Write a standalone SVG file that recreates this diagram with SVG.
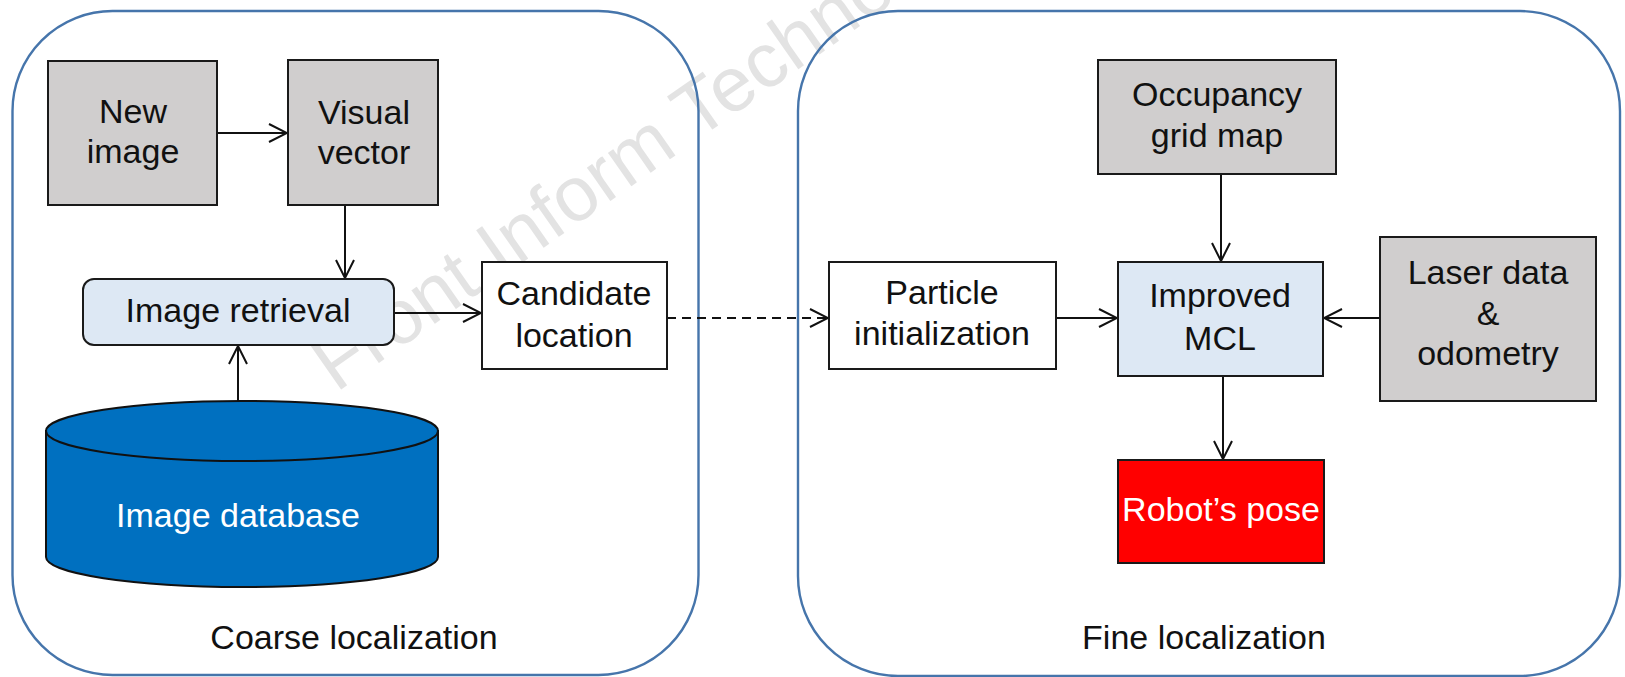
<svg xmlns="http://www.w3.org/2000/svg" width="1625" height="677" viewBox="0 0 1625 677">
<style>
  .panel { fill: none; stroke: #4675ab; stroke-width: 2.4; }
  .box { stroke: #1a1a1a; stroke-width: 2; }
  .gray { fill: #d0cece; }
  .blue { fill: #dde8f4; }
  .white { fill: #ffffff; }
  .red { fill: #ff0000; }
  .t { font-family: "Liberation Sans", Arial, sans-serif; font-size: 34px; fill: #111; text-anchor: middle; }
  .tw { fill: #ffffff; }
  .wm { font-family: "Liberation Sans", Arial, sans-serif; font-size: 77px; fill: #e3e3e3; }
  .conn { fill: none; stroke: #111; stroke-width: 2; }
</style>
<defs>
  <marker id="arr" viewBox="0 0 20 20" refX="19" refY="10" markerWidth="20" markerHeight="20" markerUnits="userSpaceOnUse" orient="auto">
    <path d="M1,1 L19,10 L1,19" fill="none" stroke="#111" stroke-width="2"/>
  </marker>
</defs>
<rect width="1625" height="677" fill="#ffffff"/>
<text class="wm" transform="translate(336,393) rotate(-35)">Front Inform Techno</text>

<g id="panel-coarse">
  <rect class="panel" x="12.5" y="11" width="686" height="664" rx="100" ry="100"/>
  <text class="t" x="354" y="649">Coarse localization</text>
</g>
<g id="panel-fine">
  <rect class="panel" x="798" y="11" width="822" height="665" rx="100" ry="100"/>
  <text class="t" x="1204" y="649">Fine localization</text>
</g>

<g id="connectors">
  <path class="conn" d="M217,133 H287" marker-end="url(#arr)"/>
  <path class="conn" d="M345,205 V278" marker-end="url(#arr)"/>
  <path class="conn" d="M238,401 V346" marker-end="url(#arr)"/>
  <path class="conn" d="M394,313 H481" marker-end="url(#arr)"/>
  <path class="conn" d="M667,318 H828" stroke-dasharray="9,6" marker-end="url(#arr)"/>
  <path class="conn" d="M1056,318 H1117" marker-end="url(#arr)"/>
  <path class="conn" d="M1221,174 V261" marker-end="url(#arr)"/>
  <path class="conn" d="M1380,318 H1324" marker-end="url(#arr)"/>
  <path class="conn" d="M1223,376 V459" marker-end="url(#arr)"/>
</g>

<g id="new-image">
  <rect class="box gray" x="48" y="61" width="169" height="144"/>
  <text class="t" x="133" y="123">New</text>
  <text class="t" x="133" y="163">image</text>
</g>
<g id="visual-vector">
  <rect class="box gray" x="288" y="60" width="150" height="145"/>
  <text class="t" x="364" y="124">Visual</text>
  <text class="t" x="364" y="164">vector</text>
</g>
<g id="image-retrieval">
  <rect class="box blue" x="83" y="279" width="311" height="66" rx="11" ry="11"/>
  <text class="t" x="238" y="322">Image retrieval</text>
</g>
<g id="image-database">
  <path d="M46,431 V557 A196,30 0 0 0 438,557 V431 Z" fill="#0070c0" stroke="#111" stroke-width="2"/>
  <ellipse cx="242" cy="431" rx="196" ry="30" fill="#0070c0" stroke="#111" stroke-width="2"/>
  <text class="t tw" x="238" y="527">Image database</text>
</g>
<g id="candidate-location">
  <rect class="box white" x="482" y="262" width="185" height="107"/>
  <text class="t" x="574" y="305">Candidate</text>
  <text class="t" x="574" y="347">location</text>
</g>
<g id="particle-initialization">
  <rect class="box white" x="829" y="262" width="227" height="107"/>
  <text class="t" x="942" y="304">Particle</text>
  <text class="t" x="942" y="345">initialization</text>
</g>
<g id="occupancy-grid-map">
  <rect class="box gray" x="1098" y="60" width="238" height="114"/>
  <text class="t" x="1217" y="106">Occupancy</text>
  <text class="t" x="1217" y="147">grid map</text>
</g>
<g id="improved-mcl">
  <rect class="box blue" x="1118" y="262" width="205" height="114"/>
  <text class="t" x="1220" y="307">Improved</text>
  <text class="t" x="1220" y="350">MCL</text>
</g>
<g id="laser-odometry">
  <rect class="box gray" x="1380" y="237" width="216" height="164"/>
  <text class="t" x="1488" y="284">Laser data</text>
  <text class="t" x="1488" y="325">&amp;</text>
  <text class="t" x="1488" y="365">odometry</text>
</g>
<g id="robots-pose">
  <rect class="box red" x="1118" y="460" width="206" height="103"/>
  <text class="t tw" x="1221" y="521">Robot’s pose</text>
</g>
</svg>
